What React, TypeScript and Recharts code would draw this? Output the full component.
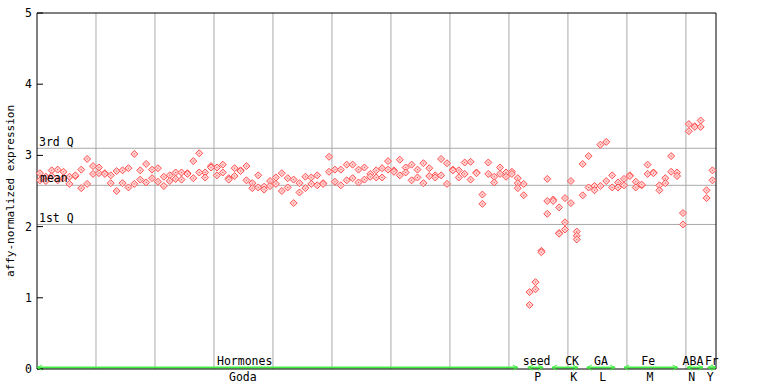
import React from 'react';
import { ScatterChart, Scatter, XAxis, YAxis, ReferenceLine, ReferenceDot } from 'recharts';

// replicate values per sample (sample index = position along x)
const rep1 = [
  2.75, 2.70, 2.79, 2.80, 2.77, 2.70, 2.71, 2.80, 2.95, 2.85,
  2.83, 2.75, 2.72, 2.78, 2.79, 2.82, 3.02, 2.79, 2.88, 2.80,
  2.82, 2.70, 2.72, 2.76, 2.76, 2.75, 2.92, 3.03, 2.76, 2.85,
  2.83, 2.87, 2.68, 2.82, 2.79, 2.85, 2.61, 2.72, 2.56, 2.64,
  2.69, 2.75, 2.68, 2.66, 2.61, 2.70, 2.69, 2.72, 2.61, 2.98,
  2.80, 2.80, 2.87, 2.87, 2.80, 2.83, 2.74, 2.79, 2.82, 2.92,
  2.79, 2.94, 2.83, 2.87, 2.80, 2.89, 2.82, 2.72, 2.95, 2.89,
  2.80, 2.79, 2.90, 2.91, 2.76, 2.45, 2.90, 2.70, 2.83, 2.76,
  2.77, 2.68, 2.60, 1.08, 1.22, 1.66, 2.67, 2.38, 2.27, 2.40,
  2.64, 1.93, 2.88, 2.99, 2.57, 3.15, 3.19, 2.72, 2.62, 2.67,
  2.72, 2.63, 2.58, 2.87, 2.76, 2.58, 2.68, 2.99, 2.76, 2.19,
  3.44, 3.41, 3.49, 2.51, 2.79,
];
const rep2 = [
  2.65, 2.64, 2.71, 2.65, 2.68, 2.60, 2.72, 2.54, 2.60, 2.74,
  2.75, 2.74, 2.61, 2.50, 2.61, 2.55, 2.60, 2.66, 2.62, 2.68,
  2.63, 2.57, 2.64, 2.67, 2.66, 2.74, 2.68, 2.76, 2.69, 2.83,
  2.72, 2.76, 2.66, 2.71, 2.78, 2.65, 2.54, 2.55, 2.52, 2.57,
  2.60, 2.50, 2.55, 2.33, 2.48, 2.54, 2.60, 2.58, 2.60, 2.77,
  2.63, 2.58, 2.65, 2.68, 2.62, 2.66, 2.70, 2.69, 2.69, 2.80,
  2.77, 2.72, 2.76, 2.65, 2.69, 2.61, 2.71, 2.69, 2.72, 2.60,
  2.79, 2.69, 2.74, 2.66, 2.75, 2.32, 2.74, 2.62, 2.74, 2.70,
  2.74, 2.61, 2.44, 0.90, 1.12, 1.64, 2.36, 2.36, 1.91, 2.06,
  2.33, 1.87, 2.44, 2.55, 2.51, 2.57, 2.64, 2.55, 2.55, 2.58,
  2.71, 2.55, 2.59, 2.74, 2.75, 2.51, 2.61, 2.77, 2.71, 2.03,
  3.34, 3.40, 3.40, 2.40, 2.65,
];
// third replicate, only a few samples have one
const rep3Index = [81, 86, 88, 89, 91];
const rep3Value = [2.54, 2.18, 1.90, 1.96, 1.82];

const q3 = 3.10;
const mean = 2.58;
const q1 = 2.03;

const yTicks = [0, 1, 2, 3, 4, 5];
const gridTicks = [9.5, 19.5, 29.5, 39.5, 49.5, 59.5, 69.5, 79.5, 89.5, 99.5, 109.5];

const groupNames = ['Hormones', 'seed', 'CK', 'GA', 'Fe', 'ABA', 'Fr'];
const groupCenters = [34.7, 84.2, 90.2, 95.1, 103.1, 110.7, 113.9];
const groupStart = [-0.5, 82.7, 86.8, 92.7, 99.0, 109.7, 113.2];
const groupEnd = [81.0, 85.3, 91.2, 97.5, 108.1, 112.4, 114.6];
const subNames = ['Goda', 'P', 'K', 'L', 'M', 'N', 'Y'];
const subCenters = [34.4, 84.4, 90.5, 95.4, 103.4, 110.5, 113.6];

const points = [
  ...rep1.map((v, i) => ({ x: i, y: v })),
  ...rep2.map((v, i) => ({ x: i, y: v })),
  ...rep3Index.map((idx, k) => ({ x: idx, y: rep3Value[k] })),
];

const FONT = '"DejaVu Sans Mono", monospace';
const GREEN = '#44ee44';
const greenY = 0.02;

const Diamond = (props: any) => {
  const { cx, cy } = props;
  if (cx == null || cy == null) return null;
  const r = 3.5;
  return (
    <g>
      <polygon
        points={`${cx},${cy - r} ${cx + r},${cy} ${cx},${cy + r} ${cx - r},${cy}`}
        fill="#ffd0d0"
        stroke="#ff5050"
        strokeWidth={1}
      />
      <rect x={cx - 0.5} y={cy - 0.5} width={1} height={1} fill="#ff5050" />
    </g>
  );
};

const textShape = (label: string, dy: number) => (props: any) => (
  <text x={props.cx} y={props.cy + dy} textAnchor="middle" fontFamily={FONT} fontSize={11.5} fill="#000">
    {label}
  </text>
);

const arrowShape = (dir: number) => (props: any) => {
  const { cx, cy } = props;
  return (
    <polyline
      points={`${cx - dir * 5},${cy - 2.5} ${cx},${cy} ${cx - dir * 5},${cy + 2.5}`}
      fill="none"
      stroke={GREEN}
      strokeWidth={1}
    />
  );
};

export default function App() {
  return (
    <div style={{ position: 'absolute', left: 0, top: 0, background: '#fff' }}>
      <ScatterChart width={768} height={384} margin={{ top: 13, right: 51, bottom: 0, left: 0 }}>
        <XAxis
          type="number"
          dataKey="x"
          domain={[-0.5, 114.6]}
          ticks={gridTicks}
          tick={false}
          tickLine={false}
          height={15}
          axisLine={{ stroke: '#000' }}
        />
        <YAxis
          type="number"
          dataKey="y"
          domain={[0, 5]}
          ticks={yTicks}
          width={37}
          tickSize={-6}
          tickMargin={11}
          axisLine={{ stroke: '#000' }}
          tickLine={{ stroke: '#000' }}
          tick={{ fontFamily: FONT, fontSize: 11.5, fill: '#000' }}
          label={{
            value: 'affy-normalized expression',
            angle: -90,
            position: 'center',
            dx: -8,
            style: { fontFamily: FONT, fontSize: 11, fill: '#000', textAnchor: 'middle' },
          }}
        />
        <YAxis
          yAxisId="right"
          orientation="right"
          type="number"
          domain={[0, 5]}
          ticks={yTicks}
          width={1}
          tickSize={-6}
          tick={false}
          axisLine={{ stroke: '#000' }}
          tickLine={{ stroke: '#000' }}
        />
        {gridTicks.map((t) => (
          <ReferenceLine key={'v' + t} x={t} stroke="#aaaaaa" />
        ))}
        <ReferenceLine y={5} stroke="#000" />
        <ReferenceLine
          y={q3}
          stroke="#aaaaaa"
          label={{ value: '3rd Q', position: 'insideBottomLeft', offset: 2, style: { fontFamily: FONT, fontSize: 11.5, fill: '#000' } }}
        />
        <ReferenceLine
          y={mean}
          stroke="#aaaaaa"
          label={{ value: 'mean', position: 'insideBottomLeft', offset: 3, style: { fontFamily: FONT, fontSize: 11.5, fill: '#000' } }}
        />
        <ReferenceLine
          y={q1}
          stroke="#aaaaaa"
          label={{ value: '1st Q', position: 'insideBottomLeft', offset: 2, style: { fontFamily: FONT, fontSize: 11.5, fill: '#000' } }}
        />
        {groupNames.map((name, k) => (
          <ReferenceLine
            key={'seg' + name}
            segment={[{ x: groupStart[k], y: greenY }, { x: groupEnd[k], y: greenY }]}
            stroke={GREEN}
            strokeWidth={2}
            ifOverflow="visible"
          />
        ))}
        {groupNames.map((name, k) => (
          <ReferenceDot key={'la' + name} x={groupStart[k]} y={greenY} ifOverflow="visible" shape={arrowShape(-1)} />
        ))}
        {groupNames.map((name, k) => (
          <ReferenceDot key={'ra' + name} x={groupEnd[k]} y={greenY} ifOverflow="visible" shape={arrowShape(1)} />
        ))}
        {groupNames.map((name, k) => (
          <ReferenceDot key={'g' + name} x={groupCenters[k]} y={0} ifOverflow="visible" shape={textShape(name, -4)} />
        ))}
        {subNames.map((name, k) => (
          <ReferenceDot key={'s' + name} x={subCenters[k]} y={0} ifOverflow="visible" shape={textShape(name, 12)} />
        ))}
        <Scatter data={points} shape={<Diamond />} isAnimationActive={false} />
      </ScatterChart>
    </div>
  );
}
